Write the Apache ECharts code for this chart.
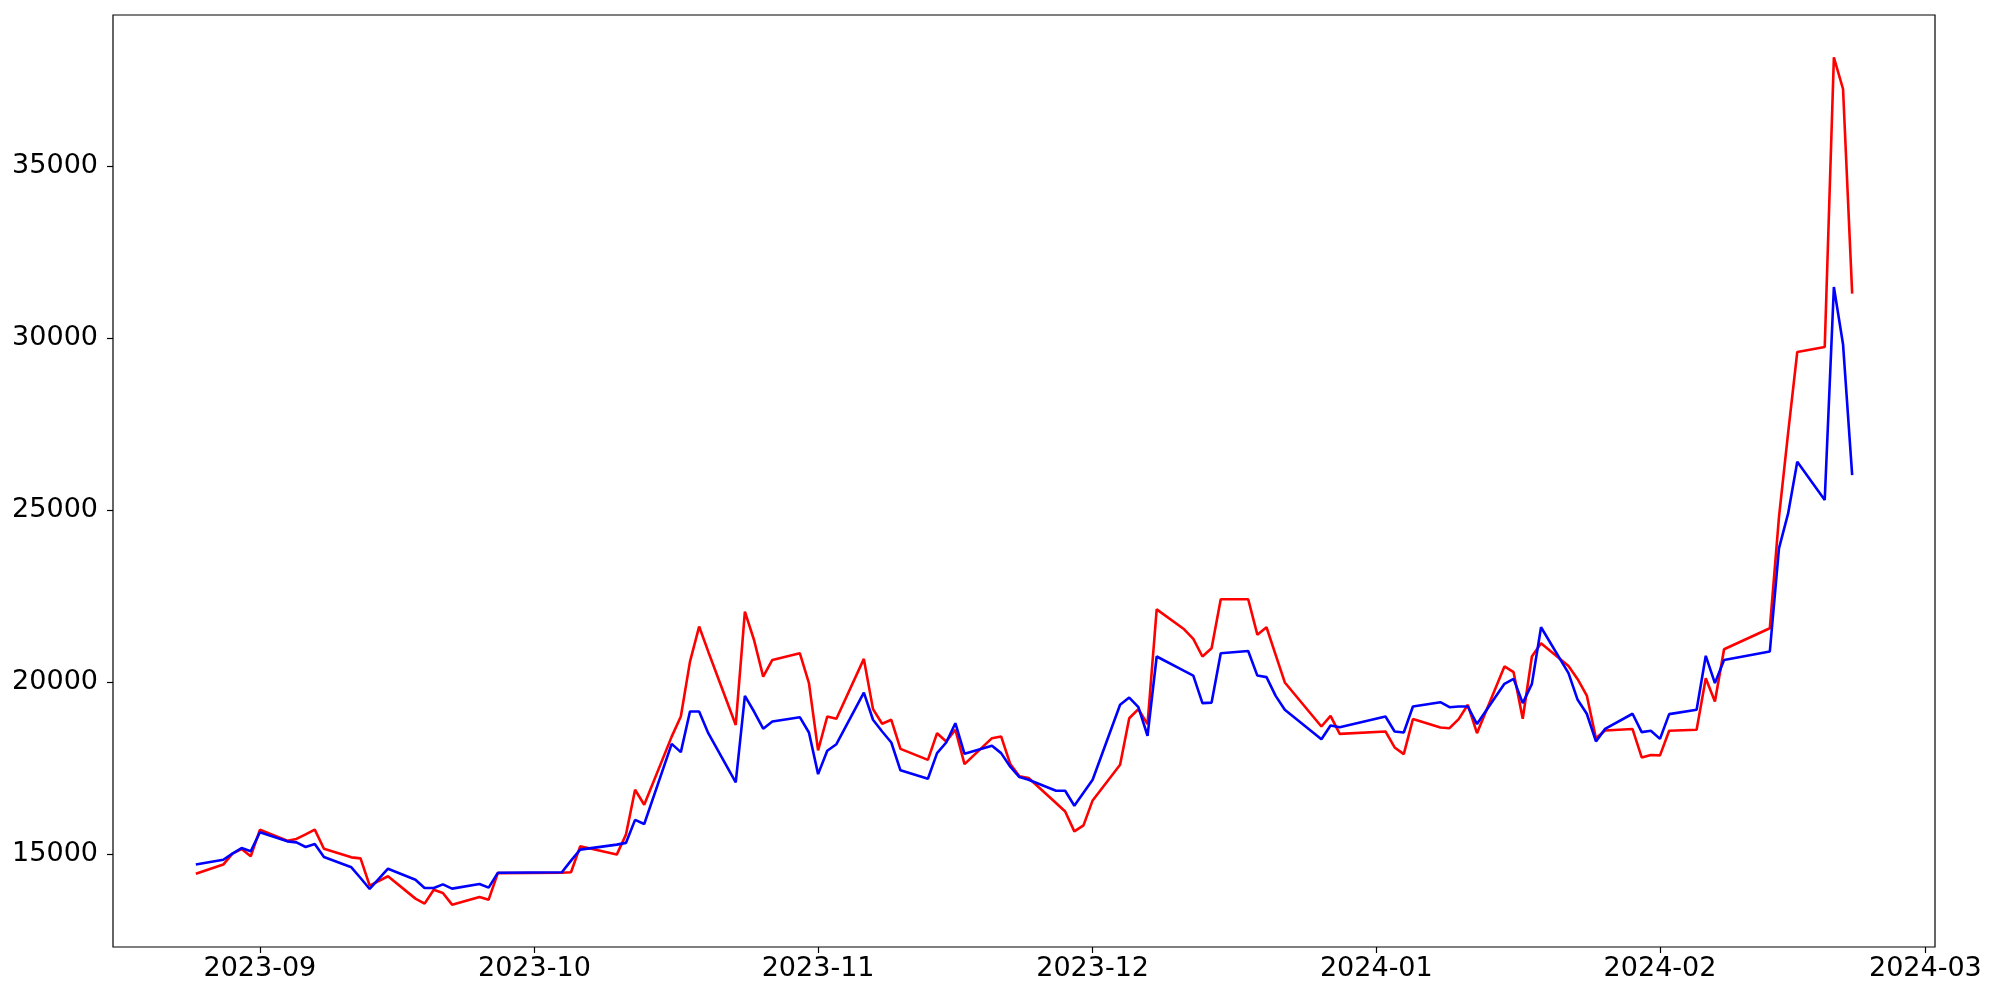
<!DOCTYPE html>
<html>
<head>
<meta charset="utf-8">
<script src="https://cdn.jsdelivr.net/npm/echarts@6/dist/echarts.min.js"></script>
<style>
html,body{margin:0;padding:0;background:#fff;}
#chart{width:2000px;height:1000px;}
</style>
</head>
<body>
<div id="chart"></div>
<script>
const dates = [
'2023-08-25','2023-08-28','2023-08-29','2023-08-30','2023-08-31',
'2023-09-01','2023-09-04','2023-09-05','2023-09-06','2023-09-07','2023-09-08',
'2023-09-11','2023-09-12','2023-09-13','2023-09-15',
'2023-09-18','2023-09-19','2023-09-20','2023-09-21','2023-09-22',
'2023-09-25','2023-09-26','2023-09-27',
'2023-10-04','2023-10-05','2023-10-06','2023-10-10','2023-10-11','2023-10-12','2023-10-13',
'2023-10-16','2023-10-17','2023-10-18','2023-10-19','2023-10-20',
'2023-10-23','2023-10-24','2023-10-25','2023-10-26','2023-10-27',
'2023-10-30','2023-10-31','2023-11-01','2023-11-02','2023-11-03',
'2023-11-06','2023-11-07','2023-11-08','2023-11-09','2023-11-10',
'2023-11-13','2023-11-14','2023-11-15','2023-11-16','2023-11-17',
'2023-11-20','2023-11-21','2023-11-22','2023-11-23','2023-11-24',
'2023-11-27','2023-11-28','2023-11-29','2023-11-30','2023-12-01',
'2023-12-04','2023-12-05','2023-12-06','2023-12-07','2023-12-08',
'2023-12-11','2023-12-12','2023-12-13','2023-12-14','2023-12-15',
'2023-12-18','2023-12-19','2023-12-20','2023-12-21','2023-12-22',
'2023-12-26','2023-12-27','2023-12-28',
'2024-01-02','2024-01-03','2024-01-04','2024-01-05',
'2024-01-08','2024-01-09','2024-01-10','2024-01-11','2024-01-12',
'2024-01-15','2024-01-16','2024-01-17','2024-01-18','2024-01-19',
'2024-01-22','2024-01-23','2024-01-24','2024-01-25','2024-01-26',
'2024-01-29','2024-01-30','2024-01-31','2024-02-01','2024-02-02',
'2024-02-05','2024-02-06','2024-02-07','2024-02-08',
'2024-02-13','2024-02-14','2024-02-15','2024-02-16',
'2024-02-19','2024-02-20','2024-02-21','2024-02-22'
];

const redValues = [
14430,14700,15020,15150,14940,
15710,15395,15445,15580,15715,15160,
14910,14880,14090,14360,
13710,13565,13970,13875,13535,
13760,13680,14450,
14460,14475,15230,14990,15570,16875,16440,
18420,19005,20600,21620,20890,
18760,22055,21230,20165,20650,
20845,19975,18020,19005,18940,
20680,19220,18795,18910,18065,
17745,18520,18280,18620,17620,
18375,18425,17620,17265,17215,
16490,16245,15665,15840,16565,
17600,18955,19220,18785,22120,
21540,21260,20750,20990,22415,
22415,21385,21600,20795,19995,
18715,19025,18500,
18570,18105,17910,18930,
18685,18665,18930,19345,18520,
20460,20295,18940,20750,21135,
20475,20090,19615,18375,18600,
18640,17815,17885,17875,18590,
18620,20120,19440,20960,
21570,24800,27250,29605,
29750,38170,37250,31300
];

const blueValues = [
14700,14840,15020,15180,15085,
15640,15375,15345,15210,15300,14920,
14620,14310,13990,14580,
14260,14020,14020,14125,14000,
14135,14030,14460,
14475,14815,15135,15280,15330,16000,15880,
18210,17970,19150,19150,18520,
17090,19605,19150,18650,18860,
18985,18540,17330,18010,18200,
19700,18910,18570,18250,17440,
17195,17940,18250,18810,17920,
18155,17940,17545,17245,17165,
16845,16845,16410,16790,17165,
19345,19555,19275,18445,20750,
20330,20195,19395,19410,20845,
20910,20195,20150,19605,19200,
18345,18745,18695,
19005,18570,18540,19295,
19420,19275,19295,19295,18785,
19955,20100,19395,19955,21600,
20265,19490,19085,18280,18645,
19085,18550,18590,18355,19075,
19200,20770,19975,20650,
20895,23895,24910,26410,
25300,31495,29830,26025
];

const yTickValues = [15000, 20000, 25000, 30000, 35000];
const xTickLabels = ['2023-09','2023-10','2023-11','2023-12','2024-01','2024-02','2024-03'];

function parseDay(s) {
  const p = s.split('-').map(Number);
  return Date.UTC(p[0], p[1] - 1, p[2] || 1);
}
const xTickValues = xTickLabels.map(parseDay);
const tsList = dates.map(parseDay);
const redData = tsList.map((t, i) => [t, redValues[i]]);
const blueData = tsList.map((t, i) => [t, blueValues[i]]);

// matplotlib-like 5% margins
const allVals = redValues.concat(blueValues);
const yMinD = Math.min.apply(null, allVals), yMaxD = Math.max.apply(null, allVals);
const yPad = (yMaxD - yMinD) * 0.05;
const xMinD = tsList[0], xMaxD = tsList[tsList.length - 1];
const xPad = (xMaxD - xMinD) * 0.05;

function fmtMonth(v) {
  const d = new Date(v);
  const m = d.getUTCMonth() + 1;
  return d.getUTCFullYear() + '-' + (m < 10 ? '0' + m : m);
}

const font = 'DejaVu Sans';
const chart = echarts.init(document.getElementById('chart'), null, {renderer: 'canvas'});
chart.setOption({
  animation: false,
  backgroundColor: '#ffffff',
  grid: {
    left: 113, right: 65, top: 15, bottom: 53,
    containLabel: false,
    show: true, borderColor: '#000000', borderWidth: 1.2, backgroundColor: 'transparent'
  },
  xAxis: {
    type: 'value',
    min: xMinD - xPad,
    max: xMaxD + xPad,
    scale: true,
    splitLine: {show: false},
    axisLine: {show: false},
    axisTick: {show: true, inside: false, length: 6, lineStyle: {color: '#000', width: 1.2}, customValues: xTickValues},
    axisLabel: {
      customValues: xTickValues,
      formatter: function (v) { return fmtMonth(v); },
      fontFamily: font, fontSize: 27, color: '#000', margin: 8
    }
  },
  yAxis: {
    type: 'value',
    min: yMinD - yPad,
    max: yMaxD + yPad,
    scale: true,
    splitLine: {show: false},
    axisLine: {show: false},
    axisTick: {show: true, inside: false, length: 6, lineStyle: {color: '#000', width: 1.2}, customValues: yTickValues},
    axisLabel: {
      customValues: yTickValues,
      formatter: function (v) { return String(v); },
      fontFamily: font, fontSize: 27, color: '#000', margin: 15
    }
  },
  series: [
    {
      type: 'line', data: redData, showSymbol: false, symbol: 'none',
      lineStyle: {color: '#ff0000', width: 2.6}, itemStyle: {color: '#ff0000'}
    },
    {
      type: 'line', data: blueData, showSymbol: false, symbol: 'none',
      lineStyle: {color: '#0000ff', width: 2.6}, itemStyle: {color: '#0000ff'}
    }
  ]
});
</script>
</body>
</html>
